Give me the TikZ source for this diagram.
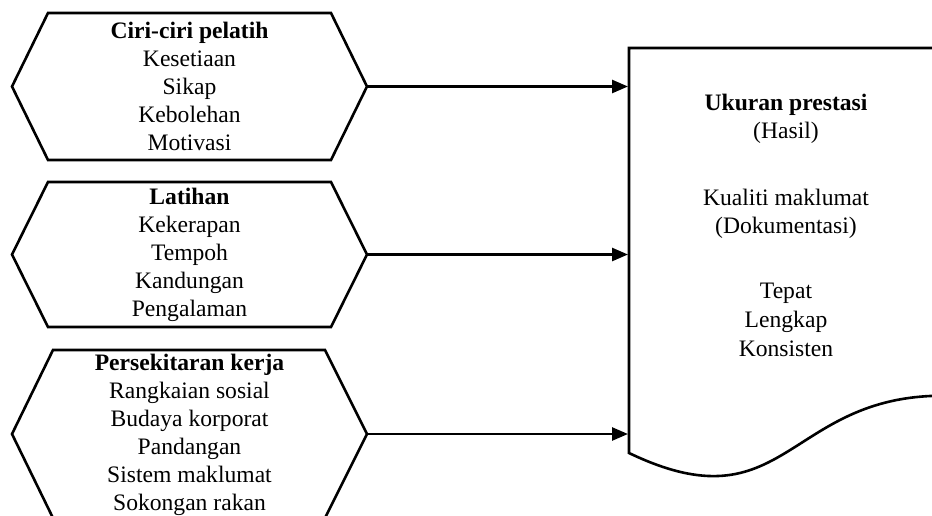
\documentclass[tikz,border=0pt]{standalone}
\usepackage{fontspec}
\setmainfont{Liberation Serif}
\usetikzlibrary{arrows.meta}
\begin{document}
\begin{tikzpicture}[x=1pt,y=-1pt,
  shapeline/.style={draw=black,line width=2.6pt,line join=miter},
  txt/.style={align=center,font=\fontsize{23.6}{28}\selectfont,inner sep=0pt},
  conn/.style={line width=2.6pt,-{Triangle[length=16pt,width=13pt]}}]
\useasboundingbox (0,0) rectangle (932,515);
\clip (0,0) rectangle (932,515);
% hexagon 1
\coordinate (h1w) at (12,86.5);
\coordinate (h1e) at (367,86.5);
\draw[shapeline] (48,13) -- (331,13) -- (h1e) -- (331,160) -- (48,160) -- (h1w) -- cycle;
\node[txt] (t1) at (189.5,86.5) {\textbf{Ciri-ciri pelatih}\\Kesetiaan\\Sikap\\Kebolehan\\Motivasi};
% hexagon 2
\coordinate (h2w) at (12,254.5);
\coordinate (h2e) at (367,254.5);
\draw[shapeline] (48,182) -- (331,182) -- (h2e) -- (331,327) -- (48,327) -- (h2w) -- cycle;
\node[txt] (t2) at (189.5,255) {\textbf{Latihan}\\Kekerapan\\Tempoh\\Kandungan\\Pengalaman};
% hexagon 3
\coordinate (h3w) at (12,434);
\coordinate (h3e) at (367,434);
\draw[shapeline] (53,350) -- (325,350) -- (h3e) -- (325,518) -- (53,518) -- (h3w) -- cycle;
\node[txt] (t3) at (189.5,434.5) {\textbf{Persekitaran kerja}\\Rangkaian sosial\\Budaya korporat\\Pandangan\\Sistem maklumat\\Sokongan rakan};
% document shape
\draw[shapeline] (629,48) -- (943,48) -- (943,395.7)
  .. controls (786,395.7) and (786,528.2) .. (629,453) -- cycle;
\node[txt] (doc) at (786,225) {\textbf{Ukuran prestasi}\\(Hasil)\\[39pt]Kualiti maklumat\\(Dokumentasi)\\[37pt]Tepat\\[1pt]Lengkap\\[1pt]Konsisten};
\coordinate (d1) at (628,86.5);
\coordinate (d2) at (628,254.5);
\coordinate (d3) at (628,434);
% connectors
\draw[conn] (h1e) -- (d1);
\draw[conn] (h2e) -- (d2);
\draw[conn] (h3e) -- (d3);
\end{tikzpicture}
\end{document}
